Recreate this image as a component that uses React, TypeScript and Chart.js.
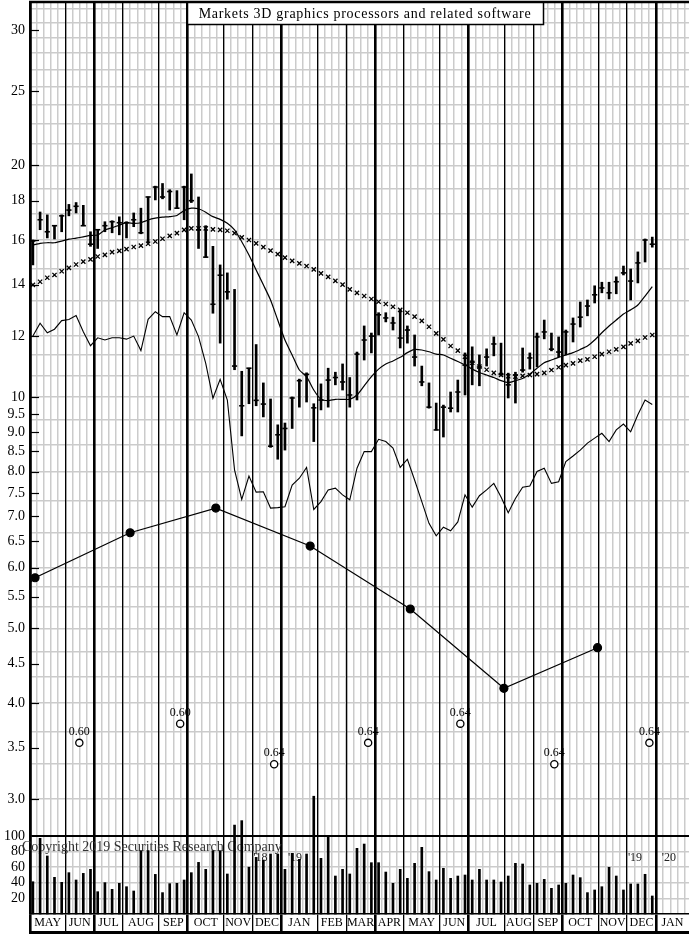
import React, { useEffect, useRef } from 'react';
import { Chart, registerables } from 'chart.js';

Chart.register(...registerables);

// ---------------- DATA ----------------
const TITLE = 'Markets 3D graphics processors and related software';
const COPYRIGHT = 'Copyright 2019 Securities Research Company';

// weekly price bars (week index 0 = first week of May 2018)
const HIGH = [16.0, 17.4, 17.25, 16.7, 17.25, 17.8, 17.9, 17.75, 16.4, 16.5, 16.9, 16.95, 17.15, 16.9, 17.35, 17.6, 18.2, 18.8, 18.95, 18.6, 18.55, 18.8,
  19.5, 18.2, 16.7, 15.7, 14.85, 14.5, 13.8, 10.8, 10.9, 11.7, 10.43, 9.94, 9.2, 9.25, 10.0, 10.55, 10.75, 9.8, 10.4, 10.9, 10.77, 11.04,
  10.6, 11.44, 12.37, 12.11, 12.87, 12.87, 12.7, 13.0, 12.37, 12.04, 10.97, 10.43, 9.82, 9.76, 10.15, 10.52, 11.41, 11.62, 11.34, 11.55, 11.97,
  11.75, 10.74, 10.77, 11.58, 11.41, 12.11, 12.59, 12.11, 11.97, 12.22, 12.67, 13.29, 13.37, 13.95, 14.1, 14.1, 14.33, 14.8, 14.67, 15.44, 16.05, 16.14];
const LOW = [14.85, 16.5, 16.1, 16.05, 16.4, 17.2, 17.35, 16.7, 15.7, 15.6, 16.4, 16.35, 16.25, 16.1, 16.65, 16.3, 15.85, 18.04, 18.1, 17.5, 17.6, 17.0,
  17.9, 15.6, 15.2, 12.85, 11.75, 13.4, 10.85, 8.9, 9.8, 9.74, 9.42, 8.6, 8.3, 8.53, 9.1, 9.7, 9.85, 8.75, 9.62, 9.7, 10.37, 10.21,
  9.7, 9.91, 11.17, 11.41, 12.04, 12.52, 12.22, 11.58, 11.75, 10.97, 10.34, 9.67, 9.06, 8.87, 9.56, 9.56, 10.06, 10.37, 10.34, 10.97, 11.31,
  10.65, 9.97, 9.82, 10.77, 10.87, 10.94, 11.9, 11.48, 11.27, 11.34, 11.79, 12.33, 12.75, 13.25, 13.66, 13.41, 13.62, 14.41, 13.37, 14.07, 14.98, 15.66];
const CLOSE = [15.95, 17.0, 16.4, 16.7, 17.2, 17.5, 17.7, 16.7, 15.8, 16.5, 16.7, 16.9, 16.85, 16.85, 17.0, 16.35, 18.2, 18.75, 18.2, 18.5, 17.6, 18.75,
  18.0, 16.5, 15.2, 13.2, 14.4, 13.7, 10.97, 9.74, 10.9, 9.9, 9.79, 8.63, 8.93, 9.1, 9.97, 10.5, 10.7, 9.68, 9.91, 10.52, 10.6, 10.46,
  10.06, 11.37, 11.86, 12.0, 12.79, 12.67, 12.48, 11.93, 12.22, 11.27, 10.46, 9.70, 9.06, 9.70, 9.67, 10.15, 11.0, 11.1, 10.94, 11.27, 11.72,
  10.7, 10.37, 10.68, 10.84, 11.24, 11.97, 12.15, 11.54, 11.44, 12.15, 12.44, 12.7, 13.13, 13.58, 13.86, 13.66, 14.12, 14.5, 14.15, 14.94, 16.0, 15.8];

// short moving average (solid line)
const MA_SHORT = [15.76, 15.84, 15.87, 15.87, 15.95, 16.04, 16.09, 16.15, 16.22, 16.24, 16.49, 16.6, 16.73, 16.85, 16.82, 16.85, 16.99, 17.08, 17.13, 17.16,
  17.22, 17.47, 17.6, 17.57, 17.39, 17.16, 17.02, 16.82, 16.49, 15.92, 15.3, 14.63, 13.99, 13.37, 12.59, 11.86, 11.34, 10.84, 10.63, 10.21,
  9.93, 9.89, 9.93, 9.93, 9.93, 10.06, 10.34, 10.63, 10.87, 11.04, 11.14, 11.26, 11.42, 11.53, 11.51, 11.45, 11.37, 11.34, 11.23, 11.12,
  11.01, 10.87, 10.76, 10.68, 10.6, 10.5, 10.44, 10.5, 10.57, 10.71, 10.9, 11.08, 11.17, 11.26, 11.34, 11.42, 11.53, 11.65, 11.86, 12.12,
  12.37, 12.59, 12.82, 12.98, 13.17, 13.53, 13.92];

// long moving average (x marks)
const MA_LONG = [13.99, 14.12, 14.29, 14.41, 14.57, 14.72, 14.87, 15.0, 15.1, 15.23, 15.3, 15.43, 15.49, 15.57, 15.67, 15.73, 15.82, 15.93, 16.06, 16.2, 16.33, 16.49,
  16.57, 16.57, 16.57, 16.52, 16.49, 16.45, 16.33, 16.13, 16.0, 15.84, 15.66, 15.5, 15.34, 15.18, 15.03, 14.92, 14.8, 14.65, 14.48, 14.33, 14.16,
  14.0, 13.8, 13.66, 13.53, 13.41, 13.3, 13.21, 13.1, 12.98, 12.87, 12.72, 12.56, 12.34, 12.1, 11.88, 11.65, 11.49, 11.28, 11.08, 10.95, 10.85, 10.75,
  10.68, 10.64, 10.63, 10.65, 10.68, 10.71, 10.75, 10.84, 10.93, 11.0, 11.06, 11.15, 11.19, 11.28, 11.37, 11.45, 11.53, 11.62, 11.74, 11.83, 11.95, 12.04];

// relative strength line
const REL_STRENGTH = [12.0, 12.47, 12.12, 12.25, 12.57, 12.61, 12.76, 12.16, 11.66, 11.94, 11.86, 11.94, 11.94, 11.89, 12.0, 11.49, 12.62, 12.91, 12.72, 12.72, 12.04, 12.87,
  12.59, 11.98, 11.06, 9.96, 10.54, 9.91, 8.04, 7.36, 7.89, 7.52, 7.53, 7.17, 7.18, 7.20, 7.68, 7.84, 8.10, 7.14, 7.31, 7.57, 7.61, 7.46,
  7.35, 8.08, 8.49, 8.49, 8.81, 8.75, 8.58, 8.10, 8.30, 7.80, 7.31, 6.85, 6.60, 6.77, 6.70, 6.88, 7.46, 7.19, 7.44, 7.57, 7.72, 7.41,
  7.07, 7.38, 7.63, 7.66, 8.00, 8.08, 7.72, 7.76, 8.24, 8.38, 8.53, 8.71, 8.84, 8.97, 8.75, 9.06, 9.22, 9.01, 9.48, 9.91, 9.78];

// weekly volume
const VOLUME = [41.4, 97, 74.4, 47, 40.6, 53, 43.6, 52.1, 57.3, 28.6, 40.2, 31.6, 39.3, 35, 29.5, 81.2, 81.2, 50.8, 27.4, 38.9, 39.3, 43.6, 53, 66.2, 57.3, 81.2, 81.2, 51.3,
  114, 119.7, 60, 72.6, 69.2, 76.9, 76.9, 57.3, 77.8, 70.1, 76.9, 151, 71.4, 99.1, 48.7, 57.3, 51.3, 84.2, 89.7, 65.8, 65.8, 53.8, 39.3, 57.3, 45.7, 65, 85.5, 54.3, 43.6, 58.6,
  45.7, 48.7, 50, 43.6, 57.3, 43.6, 43.6, 41, 48.7, 65, 64.1, 37.2, 39.3, 44.4, 32.9, 37.2, 39.3, 50, 46.6, 27.4, 30.8, 35, 59.8, 48.7, 30.8, 38.5, 38.5, 50.9, 23.1];

// quarterly earnings (week index, value); first point precedes the chart
const EARN_WEEK = [-12.8, 0.3, 13.5, 25.4, 38.5, 52.4, 65.4, 78.4];
const EARN_VALUE = [4.4, 5.82, 6.66, 7.17, 6.40, 5.30, 4.18, 4.72];

// dividends (week index, marker level, amount)
const DIV_WEEK = [6.45, 20.45, 33.5, 46.55, 59.35, 72.4, 85.6];
const DIV_LEVEL = [3.55, 3.76, 3.33, 3.55, 3.76, 3.33, 3.55];
const DIV_LABEL = ['0.60', '0.60', '0.64', '0.64', '0.64', '0.64', '0.64'];

// time axis
const MONTHS = ['MAY', 'JUN', 'JUL', 'AUG', 'SEP', 'OCT', 'NOV', 'DEC', 'JAN', 'FEB', 'MAR', 'APR', 'MAY', 'JUN', 'JUL', 'AUG', 'SEP', 'OCT', 'NOV', 'DEC', 'JAN'];
const MONTH_STARTS = [-0.4, 4.5, 8.5, 12.5, 17.5, 21.5, 26.5, 30.5, 34.5, 39.5, 43.5, 47.5, 51.5, 56.5, 60.5, 65.5, 69.5, 73.5, 78.5, 82.5, 86.5];
const QUARTER_STARTS = [-0.4, 8.5, 21.5, 34.5, 47.5, 60.5, 73.5, 86.5];
const YEAR_TEXT = ["'18", "'19", "'19", "'20"];
const YEAR_BOUNDARY = [34.5, 34.5, 86.5, 86.5];
const X_MIN = -0.4;
const X_MAX = 91.1;

// value axes
const PRICE_LABELS = [3.0, 3.5, 4.0, 4.5, 5.0, 5.5, 6.0, 6.5, 7.0, 7.5, 8.0, 8.5, 9.0, 9.5, 10, 12, 14, 16, 18, 20, 25, 30];
const PRICE_GRID = [3.0, 3.333, 3.667, 4.0, 4.333, 4.667, 5.0, 5.333, 5.667, 6.0, 6.667, 7.333, 8.0, 8.667, 9.333, 10, 10.667, 11.333, 12,
  13.333, 14.667, 16, 17.333, 18.667, 20, 21.333, 22.667, 24, 25.333, 26.667, 28, 29.333, 30.667, 32];
const PRICE_MIN = 2.686;
const PRICE_MAX = 32.63;
const VOL_TICKS = [20, 40, 60, 80, 100];

// ---------------- STYLE ----------------
const SERIF = '"Liberation Serif", "Times New Roman", serif';
const GRID_GREY = '#cbcbcb';
const CLEAR = 'rgba(0,0,0,0)';

const weeks = HIGH.map((_, i) => i);

function priceTicks() {
  const map = new Map<string, any>();
  PRICE_GRID.forEach((v) => map.set(v.toFixed(2), { value: v, grid: true, lab: '' }));
  PRICE_LABELS.forEach((v) => {
    const k = v.toFixed(2);
    const lab = v >= 10 ? String(v) : v.toFixed(1);
    const e = map.get(k);
    if (e) e.lab = lab;
    else map.set(k, { value: v, grid: false, lab });
  });
  return Array.from(map.values()).sort((a, b) => a.value - b.value);
}

function monthTicks() {
  const out: any[] = [];
  MONTH_STARTS.forEach((s, i) => {
    out.push({ value: s, kind: 'line', quarter: QUARTER_STARTS.includes(s), lab: '' });
    const e = i + 1 < MONTH_STARTS.length ? MONTH_STARTS[i + 1] : X_MAX;
    out.push({ value: (s + e) / 2, kind: 'label', lab: MONTHS[i] });
  });
  return out;
}

function weekLines() {
  const out: any[] = [];
  for (let v = 0.5; v < X_MAX; v += 1) out.push({ value: v });
  return out;
}

function noPad(s: any) {
  s.paddingTop = 0;
  s.paddingBottom = 0;
  s.paddingLeft = 0;
  s.paddingRight = 0;
}

const decorPlugin = {
  id: 'decor',
  beforeDatasetsDraw(chart: any) {
    const { ctx, chartArea, scales } = chart;
    const x = scales.x;
    const yv = scales.yVol;
    ctx.save();
    ctx.font = `14px ${SERIF}`;
    ctx.fillStyle = '#333';
    ctx.textAlign = 'left';
    ctx.textBaseline = 'middle';
    ctx.fillText(COPYRIGHT, chartArea.left - 8, yv.getPixelForValue(85));
    ctx.font = `12px ${SERIF}`;
    ctx.fillStyle = '#222';
    ctx.textAlign = 'center';
    const shifts = [-2.9, 1.9, -2.9, 1.8];
    YEAR_TEXT.forEach((t, i) => {
      ctx.fillText(t, x.getPixelForValue(YEAR_BOUNDARY[i] + shifts[i]), yv.getPixelForValue(72));
    });
    ctx.restore();
  },
  afterDraw(chart: any) {
    const { ctx, chartArea, scales } = chart;
    const x = scales.x;
    const y = scales.y;
    ctx.save();
    // inward tick dashes on price axis
    ctx.strokeStyle = '#000';
    ctx.lineWidth = 1.2;
    PRICE_LABELS.forEach((v) => {
      const py = Math.round(y.getPixelForValue(v)) + 0.5;
      ctx.beginPath();
      ctx.moveTo(chartArea.left, py);
      ctx.lineTo(chartArea.left + 9, py);
      ctx.stroke();
    });
    // dividend labels
    ctx.font = `12px ${SERIF}`;
    ctx.fillStyle = '#000';
    ctx.textAlign = 'center';
    ctx.textBaseline = 'middle';
    DIV_WEEK.forEach((w, i) => {
      ctx.fillText(DIV_LABEL[i], x.getPixelForValue(w), y.getPixelForValue(DIV_LEVEL[i]) - 11);
    });
    // top frame
    ctx.lineWidth = 2.5;
    ctx.beginPath();
    ctx.moveTo(chartArea.left - 1, chartArea.top);
    ctx.lineTo(chartArea.right, chartArea.top);
    ctx.stroke();
    // title box
    const bx = chartArea.left + 157;
    const bw = 356;
    const by = chartArea.top;
    const bh = 22;
    ctx.fillStyle = '#fff';
    ctx.fillRect(bx, by, bw, bh);
    ctx.lineWidth = 1.5;
    ctx.strokeRect(bx + 0.5, by + 0.5, bw, bh);
    ctx.fillStyle = '#000';
    ctx.font = `14px ${SERIF}`;
    try { (ctx as any).letterSpacing = '0.7px'; } catch (e) { /* ignore */ }
    ctx.fillText(TITLE, bx + bw / 2, by + bh / 2 + 1);
    ctx.restore();
  },
};

export default function App() {
  const ref = useRef<HTMLCanvasElement>(null);

  useEffect(() => {
    if (!ref.current) return;
    Chart.defaults.font.family = SERIF;
    Chart.defaults.color = '#000';
    const PT = priceTicks();
    const MT = monthTicks();
    const WL = weekLines();

    const chart = new Chart(ref.current, {
      type: 'bar',
      data: {
        datasets: [
          {
            type: 'line',
            label: 'close',
            data: weeks.map((i) => ({ x: i, y: CLOSE[i] })),
            xAxisID: 'x', yAxisID: 'y',
            showLine: false,
            pointStyle: 'line',
            pointRadius: 2.6,
            pointBorderWidth: 1.6,
            pointBorderColor: '#000',
            pointBackgroundColor: '#000',
          } as any,
          {
            type: 'bar',
            label: 'range',
            data: weeks.map((i) => ({ x: i, y: [LOW[i], HIGH[i]] })),
            xAxisID: 'x', yAxisID: 'y',
            backgroundColor: '#000',
            borderWidth: 0,
            barThickness: 2,
            grouped: false,
          } as any,
          {
            type: 'line',
            label: 'ma short',
            data: weeks.map((i) => ({ x: i, y: MA_SHORT[i] })),
            xAxisID: 'x', yAxisID: 'y',
            borderColor: '#000',
            borderWidth: 1.2,
            pointRadius: 0,
            tension: 0.2,
          } as any,
          {
            type: 'line',
            label: 'ma long',
            data: weeks.map((i) => ({ x: i, y: MA_LONG[i] })),
            xAxisID: 'x', yAxisID: 'y',
            showLine: false,
            pointStyle: 'crossRot',
            pointRadius: 3,
            pointBorderWidth: 1.3,
            pointBorderColor: '#000',
          } as any,
          {
            type: 'line',
            label: 'relative strength',
            data: weeks.map((i) => ({ x: i, y: REL_STRENGTH[i] })),
            xAxisID: 'x', yAxisID: 'y',
            borderColor: '#000',
            borderWidth: 1.1,
            pointRadius: 0,
          } as any,
          {
            type: 'line',
            label: 'earnings',
            data: EARN_WEEK.map((w, i) => ({ x: w, y: EARN_VALUE[i] })),
            xAxisID: 'x', yAxisID: 'y',
            borderColor: '#000',
            borderWidth: 1.2,
            pointRadius: EARN_WEEK.map((w) => (w < X_MIN ? 0 : 4)),
            pointBackgroundColor: '#000',
            pointBorderColor: '#000',
          } as any,
          {
            type: 'line',
            label: 'dividends',
            data: DIV_WEEK.map((w, i) => ({ x: w, y: DIV_LEVEL[i] })),
            xAxisID: 'x', yAxisID: 'y',
            showLine: false,
            pointStyle: 'circle',
            pointRadius: 3.6,
            pointBorderWidth: 1.3,
            pointBorderColor: '#000',
            pointBackgroundColor: '#fff',
          } as any,
          {
            type: 'bar',
            label: 'volume',
            data: weeks.map((i) => ({ x: i, y: VOLUME[i] })),
            xAxisID: 'x', yAxisID: 'yVol',
            backgroundColor: '#000',
            borderWidth: 0,
            barThickness: 2,
            grouped: false,
            clip: false,
          } as any,
        ],
      },
      options: {
        responsive: false,
        maintainAspectRatio: false,
        animation: false,
        events: [],
        layout: { autoPadding: false, padding: { top: 2, bottom: 2, left: 0, right: 0 } },
        plugins: { legend: { display: false }, tooltip: { enabled: false }, title: { display: false } },
        scales: {
          xw: {
            type: 'linear', position: 'bottom', min: X_MIN, max: X_MAX, bounds: 'data', offset: false,
            afterBuildTicks: (s: any) => { s.ticks = WL.map((t) => ({ ...t })); },
            afterFit: (s: any) => { s.height = 0; noPad(s); },
            ticks: { display: false },
            grid: { offset: false, drawTicks: false, color: GRID_GREY, lineWidth: 1.5 },
            border: { display: false },
          },
          yVol: {
            type: 'linear', position: 'left', stack: 'panels', stackWeight: 78,
            min: 0, max: 100, bounds: 'data', beginAtZero: true,
            afterBuildTicks: (s: any) => { s.ticks = VOL_TICKS.map((v) => ({ value: v })); },
            afterFit: (s: any) => { s.width = 30; noPad(s); },
            ticks: { autoSkip: false, padding: 5, font: { size: 14, family: SERIF }, color: '#000', callback: (v: any) => String(v) },
            grid: {
              drawTicks: false,
              color: (c: any) => (c.tick && c.tick.value === 100 ? '#000' : GRID_GREY),
              lineWidth: (c: any) => (c.tick && c.tick.value === 100 ? 2 : 1.5),
            },
            border: { display: true, color: '#000', width: 2.5 },
          },
          y: {
            type: 'logarithmic', position: 'left', stack: 'panels', stackWeight: 834,
            min: PRICE_MIN, max: PRICE_MAX, bounds: 'data',
            afterBuildTicks: (s: any) => { s.ticks = PT.map((t) => ({ ...t })); },
            afterFit: (s: any) => { s.width = 30; noPad(s); },
            ticks: {
              autoSkip: false, padding: 5, font: { size: 14, family: SERIF }, color: '#000',
              callback: (_v: any, i: number, t: any[]) => (t[i] && t[i].lab) || '',
            },
            grid: {
              drawTicks: false,
              color: (c: any) => (c.tick && c.tick.grid ? GRID_GREY : CLEAR),
              lineWidth: 1.5,
            },
            border: { display: true, color: '#000', width: 2.5 },
          },
          x: {
            type: 'linear', position: 'bottom', min: X_MIN, max: X_MAX, bounds: 'data', offset: false,
            afterBuildTicks: (s: any) => { s.ticks = MT.map((t) => ({ ...t })); },
            afterFit: (s: any) => { s.height = 18; noPad(s); },
            ticks: {
              autoSkip: false, maxRotation: 0, minRotation: 0, padding: -16,
              font: { size: 12, family: SERIF }, color: '#000',
              callback: (_v: any, i: number, t: any[]) => (t[i] && t[i].lab) || '',
            },
            grid: {
              offset: false,
              drawTicks: true,
              tickLength: 18,
              color: (c: any) => (c.tick && c.tick.kind === 'line' ? '#000' : CLEAR),
              tickColor: (c: any) => (c.tick && c.tick.kind === 'line' ? '#000' : CLEAR),
              lineWidth: (c: any) => (c.tick && c.tick.quarter ? 2.6 : 1.3),
              tickWidth: (c: any) => (c.tick && c.tick.quarter ? 2.6 : 1.3),
            },
            border: { display: true, color: '#000', width: 1.5 },
          },
          xBottom: {
            type: 'linear', position: 'bottom', min: X_MIN, max: X_MAX, bounds: 'data', offset: false,
            afterBuildTicks: (s: any) => { s.ticks = []; },
            afterFit: (s: any) => { s.height = 2; noPad(s); },
            ticks: { display: false },
            grid: { display: true, offset: false, drawTicks: false, color: CLEAR },
            border: { display: true, color: '#000', width: 3 },
          },
        } as any,
      },
      plugins: [decorPlugin],
    } as any);

    return () => chart.destroy();
  }, []);

  return (
    <div style={{ position: 'fixed', left: 0, top: 0, width: 689, height: 936, background: '#fff' }}>
      <canvas ref={ref} width={689} height={936} style={{ display: 'block', width: 689, height: 936 }} />
    </div>
  );
}
